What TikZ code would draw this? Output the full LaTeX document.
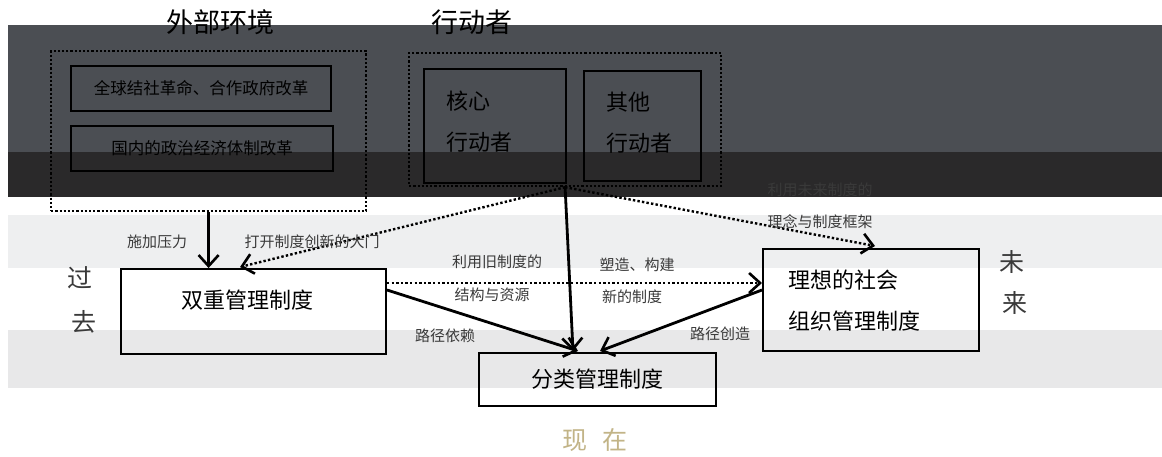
\documentclass[tikz,border=0pt]{standalone}
\usepackage{fontspec}
\setmainfont{Noto Sans CJK SC}
\usetikzlibrary{arrows.meta,calc}
\definecolor{bandA}{HTML}{4B4E53}
\definecolor{bandB}{HTML}{2A292A}
\definecolor{bandC}{HTML}{EEEFF0}
\definecolor{bandD}{HTML}{E8E8E9}
\definecolor{labgray}{HTML}{3A3A3A}
\definecolor{tan}{HTML}{C2B487}
\begin{document}
\begin{tikzpicture}[x=1pt,y=-1pt,
  box/.style={draw=black,line width=2pt,inner sep=0pt},
  dotbox/.style={draw=black,line width=2.2pt,dash pattern=on 2.2pt off 2pt,inner sep=0pt},
  arr/.style={line width=2.8pt,-{Straight Barb[length=11pt,width=20pt,line width=2.6pt]}},
  darr/.style={line width=2.4pt,dash pattern=on 2.4pt off 2.2pt,-{Straight Barb[length=11pt,width=20pt,line width=2.6pt]}},
  title/.style={font=\fontsize{27}{27}\selectfont,text=black},
  inner/.style={font=\fontsize{16.5}{16.5}\selectfont,text=black},
  big/.style={font=\fontsize{22}{22}\selectfont,text=black},
  multi/.style={font=\fontsize{22}{41}\selectfont,text=black,align=left,anchor=west},
  lab/.style={font=\fontsize{15}{15}\selectfont,text=labgray},
  side/.style={font=\fontsize{25}{25}\selectfont,text=labgray}
]
\useasboundingbox (0,0) rectangle (1162,457);
\fill[white] (0,0) rectangle (1162,457);
% background bands
\fill[bandA] (8,25) rectangle (1162,152);
\fill[bandB] (8,152) rectangle (1162,197);
\fill[bandC] (8,215) rectangle (1162,268);
\fill[bandD] (8,330) rectangle (1162,388);

% external environment
\node[title] (extT) at (220,22) {外部环境};
\node[dotbox,minimum width=315pt,minimum height=160pt,anchor=north west] (ext) at (50,50) {};
\node[box,inner,minimum width=260pt,minimum height=45pt,anchor=north west] (g1) at (70,65) {全球结社革命、合作政府改革};
\node[box,inner,minimum width=262pt,minimum height=45pt,anchor=north west] (g2) at (70,125) {国内的政治经济体制改革};

% actors
\node[title] (actT) at (472,22) {行动者};
\node[dotbox,minimum width=312pt,minimum height=133pt,anchor=north west] (act) at (408,52) {};
\node[box,minimum width=142pt,minimum height=114pt,anchor=north west] (core) at (423,68) {};
\node[multi] (coreT) at (443,122) {核心\\行动者};
\node[box,minimum width=117pt,minimum height=110pt,anchor=north west] (other) at (583,70) {};
\node[multi] (otherT) at (603,123) {其他\\行动者};

% institutions
\node[box,minimum width=265pt,minimum height=85pt,anchor=north west] (dual) at (120,268) {};
\node[big] (dualT) at (247,300) {双重管理制度};
\node[box,big,minimum width=237pt,minimum height=53pt,anchor=north west] (cls) at (478,352) {分类管理制度};
\node[box,minimum width=216pt,minimum height=102pt,anchor=north west] (ideal) at (762,248) {};
\node[multi] (idealT) at (785,301) {理想的社会\\组织管理制度};

% time labels
\node[side] (p1) at (80,278) {过};
\node[side] (p2) at (84,322) {去};
\node[side] (f1) at (1012,262) {未};
\node[side] (f2) at (1015,303) {来};
\node[side,text=tan] (now) at (595,440) {现\hspace{0.6em}在};

% connectors
\draw[arr] (ext.south) -- (ext.south |- dual.north);
\draw[darr] (act.south) -- ($(dual.north west)+(120,-1)$);
\draw[arr] (act.south) -- ($(cls.north west)+(95,-1)$);
\draw[darr] (act.south) -- ($(ideal.north west)+(113,-2)$);
\draw[darr] ($(dual.north east)+(0,15)$) -- ($(ideal.north west)+(0,35)$);
\draw[arr] ($(dual.north east)+(0,22)$) -- ($(cls.north west)+(100,-1)$);
\draw[arr] ($(ideal.north west)+(0,42)$) -- ($(cls.north west)+(122,-1)$);

% connector labels
\node[lab] (l1) at (157,242) {施加压力};
\node[lab] (l2) at (312,242) {打开制度创新的大门};
\node[lab] (l3) at (497,262) {利用旧制度的};
\node[lab] (l4) at (492,295) {结构与资源};
\node[lab] (l5) at (637,265) {塑造、构建};
\node[lab] (l6) at (632,297) {新的制度};
\node[lab] (l7) at (820,190) {利用未来制度的};
\node[lab] (l8) at (820,222) {理念与制度框架};
\node[lab] (l9) at (445,336) {路径依赖};
\node[lab] (l10) at (720,334) {路径创造};
\end{tikzpicture}
\end{document}
